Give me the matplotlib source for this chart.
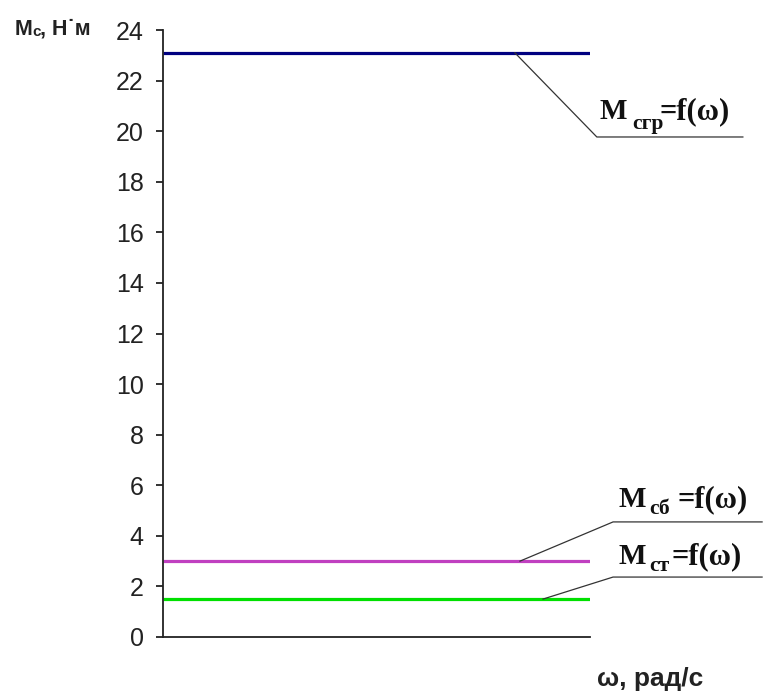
import numpy as np
import matplotlib
matplotlib.use("Agg")
from matplotlib import pyplot as plt

# data
omega = [0.0, 1.0]
series_names = ['сгр', 'сб', 'ст']
series_values = [23.1, 3.0, 1.5]
series_colors = ['#000080', '#c040c0', '#00e000']
y_ticks = list(range(0, 25, 2))

W, H = 765, 694
fig = plt.figure(figsize=(W / 100, H / 100), dpi=100)
ax = fig.add_axes([163 / W, 1 - 637 / H, (590 - 163) / W, (637 - 30) / H])

for val, col in zip(series_values, series_colors):
    ax.plot(omega, [val, val], color=col, lw=2.3, solid_capstyle='butt')

ax.set_xlim(0, 1)
ax.set_ylim(0, 24)
ax.set_yticks(y_ticks)
ax.set_xticks([])
for s in ['top', 'right']:
    ax.spines[s].set_visible(False)
for s in ['left', 'bottom']:
    ax.spines[s].set_color('#222222')
    ax.spines[s].set_linewidth(1.3)
ax.tick_params(axis='y', length=5, width=1.3, color='#222222', pad=9,
               labelsize=18, labelcolor='#222222')
for lab in ax.get_yticklabels():
    lab.set_family('Liberation Sans')

# leader lines: start along the curve (x frac), elbow, end of underline
leaders = [
    (0.824, 1.016, 19.77, 1.358),
    (0.836, 1.054, 4.55, 1.403),
    (0.890, 1.054, 2.37, 1.403),
]
for (xs, xe, ye, xend), val in zip(leaders, series_values):
    ax.plot([xs, xe, xend], [val, ye, ye], color='#333333', lw=0.9, clip_on=False)

# labels: (x of M, baseline, x of sub, sub baseline, x of '=f(ω)')
label_pos = [
    (1.023, 20.48, 1.098, 20.10, 1.162),
    (1.066, 5.14, 1.138, 4.85, 1.206),
    (1.066, 2.89, 1.138, 2.60, 1.192),
]
serif = dict(family='Liberation Serif', weight='bold', color='#111111', va='baseline', clip_on=False)
for (xm, ym, xs, ys, xq), name in zip(label_pos, series_names):
    ax.text(xm, ym, 'M', fontsize=21, **serif)
    ax.text(xs, ys, name, fontsize=15.5, **serif)
    ax.text(xq, ym, '=f(ω)', fontsize=22, **serif)

# axis titles
sans = dict(family='Liberation Sans', color='#222222', va='baseline')
fig.text(15 / W, 1 - 35 / H, 'M', fontsize=15.5, weight='bold', **sans)
fig.text(32.5 / W, 1 - 36 / H, 'с', fontsize=11, weight='bold', **sans)
fig.text(40 / W, 1 - 35 / H, ', Н˙м', fontsize=15.5, weight='bold', **sans)
fig.text(597 / W, 1 - 686 / H, 'ω, рад/с', fontsize=19, weight='bold', **sans)

fig.savefig('out.png', dpi=100)
